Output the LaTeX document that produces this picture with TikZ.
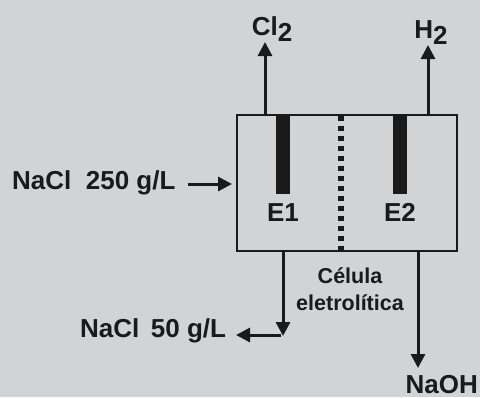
\documentclass[tikz,border=0pt]{standalone}
\usepackage{fontspec}
\setmainfont{Liberation Sans}
\usetikzlibrary{positioning,arrows.meta}
\definecolor{bggray}{HTML}{D2D3D5}
\definecolor{inkgray}{HTML}{1A1A1A}

\begin{document}
\begin{tikzpicture}[
    x=1pt, y=-1pt,
    cell/.style={draw=inkgray, line width=2pt, minimum width=220.2pt,
                 minimum height=136.2pt, inner sep=0pt},
    electrode/.style={fill=inkgray, minimum width=14pt,
                      minimum height=80pt, inner sep=0pt},
    lbl/.style={font=\bfseries\fontsize{26}{28}\selectfont, text=inkgray, inner sep=0pt},
    small/.style={font=\bfseries\fontsize{21.5}{27.5}\selectfont, text=inkgray,
                  inner sep=0pt, align=center},
    arr/.style={-{Triangle[length=14pt,width=14pt]}, line width=3pt, draw=inkgray},
    divider/.style={draw=inkgray, line width=5.5pt, dash pattern=on 5.5pt off 4.5pt}
]
  \fill[bggray] (0,0) rectangle (480,397);
  \node[cell] (box) at (347,183) {};
  \node[electrode] (e1bar) at (283,154) {};
  \node[electrode] (e2bar) at (400,154) {};
  \node[lbl, below=9pt of e1bar] (e1) {E1};
  \node[lbl, below=9pt of e2bar] (e2) {E2};
  \node[lbl] (cl2) at (272,29) {Cl\raisebox{-6pt}{2}};
  \node[lbl] (h2) at (431,33) {H\raisebox{-6pt}{2}};
  \node[lbl, anchor=west] (feed) at (12,183) {NaCl\; 250 g/L};
  \node[lbl, anchor=west] (brine) at (80,331) {NaCl\, 50 g/L};
  \node[lbl, anchor=east] (naoh) at (478,385) {NaOH};
  \node[small] (name) at (350,289) {Célula\\eletrolítica};
  \coordinate (clend) at (265,42);
  \coordinate (hend) at (428,45);
  \coordinate (feedstart) at (188,184);
  \coordinate (feedend) at (232,184);
  \coordinate (brinedown) at (283,336);
  \coordinate (brineturn) at (281,335);
  \coordinate (brineend) at (236,335);
  \coordinate (naohend) at (418,368);
  \coordinate (midline) at (341,183);
  \draw[arr] (box.north -| clend) -- (clend);
  \draw[arr] (box.north -| hend) -- (hend);
  \draw[arr] (feedstart) -- (feedend);
  \draw[arr] (box.south -| brinedown) -- (brinedown);
  \draw[arr] (brineturn) -- (brineend);
  \draw[arr] (box.south -| naohend) -- (naohend);
  \draw[divider] (box.north -| midline) ++(0,2) -- (box.south -| midline);
\end{tikzpicture}
\end{document}
